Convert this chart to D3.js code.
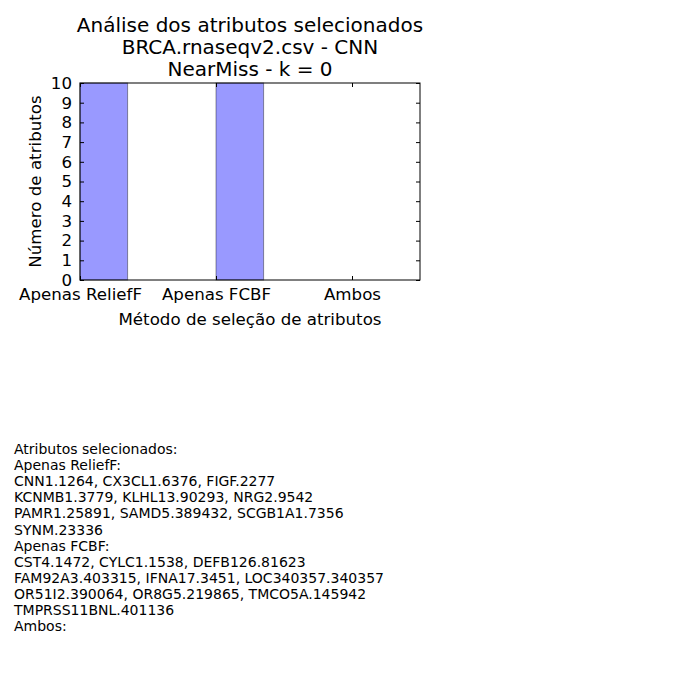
<!DOCTYPE html>
<html>
<head>
<meta charset="utf-8">
<script src="https://cdn.jsdelivr.net/npm/d3@7"></script>
<style>
  html, body { margin: 0; padding: 0; background: #fff; }
  svg { display: block; font-family: "DejaVu Sans", sans-serif; }
</style>
</head>
<body>
<svg id="chart" width="700" height="700"></svg>
<script>
const categories = ["Apenas ReliefF", "Apenas FCBF", "Ambos"];
const values = [10, 10, 0];
const yTicks = [0, 1, 2, 3, 4, 5, 6, 7, 8, 9, 10];
const titleLines = ["Análise dos atributos selecionados", "BRCA.rnaseqv2.csv - CNN", "NearMiss - k = 0"];
const xLabel = "Método de seleção de atributos";
const yLabel = "Número de atributos";
const infoLines = [
  "Atributos selecionados:",
  "Apenas ReliefF:",
  "CNN1.1264, CX3CL1.6376, FIGF.2277",
  "KCNMB1.3779, KLHL13.90293, NRG2.9542",
  "PAMR1.25891, SAMD5.389432, SCGB1A1.7356",
  "SYNM.23336",
  "Apenas FCBF:",
  "CST4.1472, CYLC1.1538, DEFB126.81623",
  "FAM92A3.403315, IFNA17.3451, LOC340357.340357",
  "OR51I2.390064, OR8G5.219865, TMCO5A.145942",
  "TMPRSS11BNL.401136",
  "Ambos:"
];

(function () {
const svg = d3.select("#chart");
const pL = 80, pR = 420, pT = 83, pB = 280;
const barWidth = 0.35;

const x = d3.scaleLinear().domain([0, 2.5]).range([pL, pR]);
const y = d3.scaleLinear().domain([0, 10]).range([pB, pT]);

// bars
svg.append("g").selectAll("rect").data(values).join("rect")
  .attr("x", (d, i) => x(i))
  .attr("width", (d, i) => x(i + barWidth) - x(i))
  .attr("y", d => y(d))
  .attr("height", d => y(0) - y(d))
  .attr("fill", "#0000ff").attr("fill-opacity", 0.4)
  .attr("stroke", "#000").attr("stroke-opacity", 0.4).attr("stroke-width", 1);

// axes
const tickLen = 4;
const fmtX = i => categories[i];
const bottomAxis = d3.axisBottom(x).tickValues([0, 1, 2]).tickFormat(fmtX).tickSizeInner(-tickLen).tickSizeOuter(0).tickPadding(8);
const topAxis = d3.axisTop(x).tickValues([0, 1, 2]).tickFormat("").tickSizeInner(-tickLen).tickSizeOuter(0);
const leftAxis = d3.axisLeft(y).tickValues(yTicks).tickFormat(d3.format("d")).tickSizeInner(-tickLen).tickSizeOuter(0).tickPadding(8);
const rightAxis = d3.axisRight(y).tickValues(yTicks).tickFormat("").tickSizeInner(-tickLen).tickSizeOuter(0);

function style(g) {
  g.select(".domain").remove();
  g.selectAll("line").attr("stroke", "#000");
  g.selectAll("text").attr("fill", "#000").attr("font-size", "16.67px").attr("font-family", "DejaVu Sans");
}
svg.append("g").attr("transform", `translate(0,${pB})`).call(bottomAxis).call(style)
  .selectAll("text").attr("dy", "0.71em");
svg.append("g").attr("transform", `translate(0,${pT})`).call(topAxis).call(style);
svg.append("g").attr("transform", `translate(${pL},0)`).call(leftAxis).call(style);
svg.append("g").attr("transform", `translate(${pR},0)`).call(rightAxis).call(style);

// frame
svg.append("rect").attr("x", pL).attr("y", pT).attr("width", pR - pL).attr("height", pB - pT)
  .attr("fill", "none").attr("stroke", "#000").attr("stroke-width", 1);

// title
svg.append("text").attr("text-anchor", "middle").attr("font-size", "20px").attr("fill", "#000")
  .selectAll("tspan").data(titleLines).join("tspan")
  .attr("x", (pL + pR) / 2).attr("y", (d, i) => 32 + i * 22).text(d => d);

// axis labels
svg.append("text").attr("x", (pL + pR) / 2).attr("y", 325).attr("text-anchor", "middle")
  .attr("font-size", "16.67px").attr("fill", "#000").text(xLabel);
svg.append("text").attr("transform", `translate(41,${(pT + pB) / 2}) rotate(-90)`).attr("text-anchor", "middle")
  .attr("font-size", "16.67px").attr("fill", "#000").text(yLabel);

// info text
svg.append("text").attr("font-size", "14px").attr("fill", "#000")
  .selectAll("tspan").data(infoLines).join("tspan")
  .attr("x", 14).attr("y", (d, i) => 454 + i * 16.1).text(d => d);
})();
</script>
</body>
</html>
